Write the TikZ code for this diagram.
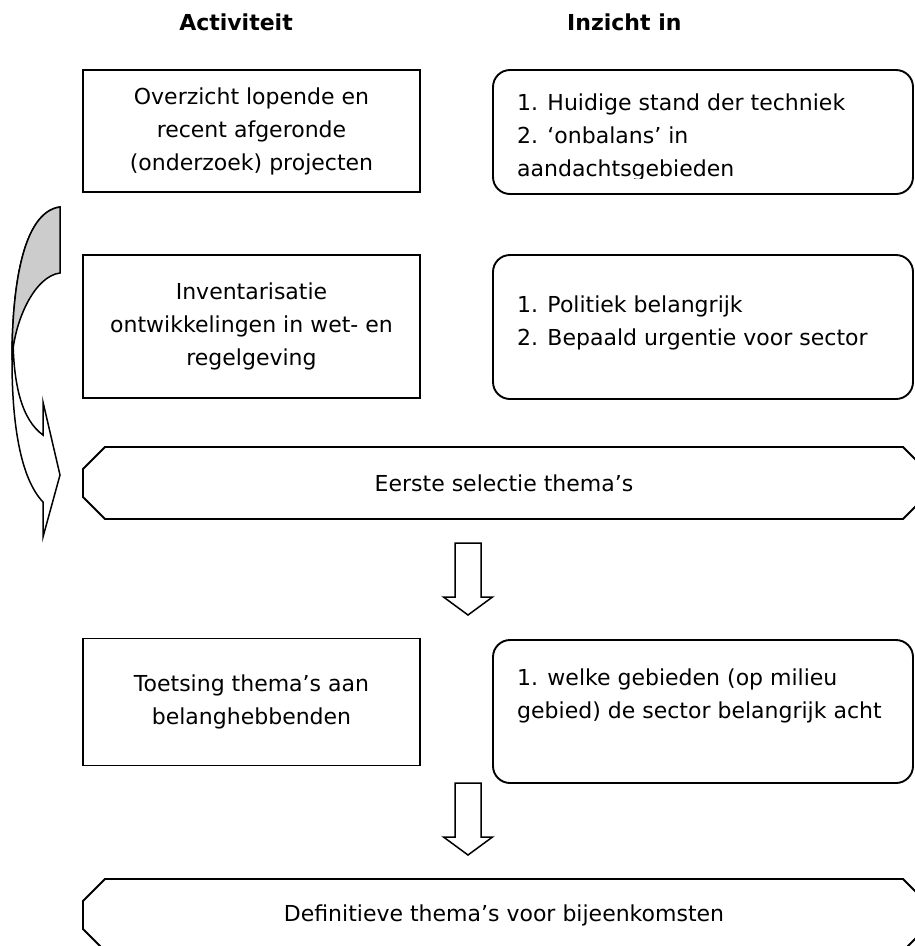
\documentclass[tikz,border=0pt]{standalone}
\usepackage{fontspec}
\setmainfont{DejaVu Sans}
\usepackage{tikz}
\usetikzlibrary{math}
\tikzset{%
  box lines/.style={line width=1.9pt, draw=black},
  actbox/.style={box lines, minimum width=337pt, align=center, inner sep=0pt,
    font=\fontsize{22}{33}\selectfont},
  insbox/.style={box lines, rounded corners=17pt, minimum width=420pt, inner sep=0pt},
  instext/.style={anchor=base west, inner sep=0pt, font=\fontsize{22}{33}\selectfont},
  headtext/.style={inner sep=0pt, font=\fontsize{22}{33}\selectfont\bfseries},
  seltext/.style={inner sep=0pt, font=\fontsize{22}{33}\selectfont},
  block arrow/.style={line width=1.5pt, draw=black, fill=white, line join=miter}
}

\begin{document}
\begin{tikzpicture}[x=1pt,y=-1pt]
    \tikzmath{
      \hl=83;  % octagon left
      \hr=925; % octagon right
      \ch=22;  % chamfer
      \ax=468; % block arrows
      \sw=13;
      \hw=24.5;
      \hh=18;
    }
    \useasboundingbox (0,0) rectangle (915,946);
    \clip (0,0) rectangle (915,946);

    \node[headtext, anchor=base] (acthead) at (236,30) {Activiteit};
    \node[headtext, anchor=base west] (inshead) at (567,30) {Inzicht in};

    % activities
    \node[actbox, minimum height=122pt] (act1) at (251.5,131)
      {Overzicht lopende en\\recent afgeronde\\(onderzoek) projecten};
    \node[actbox, minimum height=143pt] (act2) at (251.5,326.5)
      {Inventarisatie\\ontwikkelingen in wet- en\\regelgeving};
    \node[actbox, minimum height=127pt] (act3) at (251.5,702)
      {Toetsing thema's aan\\belanghebbenden};

    % insights
    \node[insbox, minimum height=124pt] (ins1) at (703,132) {};
    \node[insbox, minimum height=144pt] (ins2) at (703,327) {};
    \node[insbox, minimum height=143pt] (ins3) at (703,711.5) {};
    \begin{scope}
      \clip (493,70) rectangle (913,178);
      \foreach \t [count=\i] in {1. Huidige stand der techniek, 2. `onbalans' in, aandachtsgebieden}
        \node[instext] (ins1l\i) at (517,{110+33*(\i-1)}) {\t};
    \end{scope}
    \foreach \t [count=\i] in {1. Politiek belangrijk, 2. Bepaald urgentie voor sector}
      \node[instext] (ins2l\i) at (517,{312+33*(\i-1)}) {\t};
    \foreach \t [count=\i] in {1. welke gebieden (op milieu, gebied) de sector belangrijk acht}
      \node[instext] (ins3l\i) at (517,{685+33*(\i-1)}) {\t};

    % selections
    \foreach \yt/\yb/\nm/\txt in {447/519/sel/{Eerste selectie thema's},
        879/951/def/{Definitieve thema's voor bijeenkomsten}} {
      \draw[box lines] (\hl+\ch,\yt) -- (\hr-\ch,\yt) -- (\hr,\yt+\ch) -- (\hr,\yb-\ch)
        -- (\hr-\ch,\yb) -- (\hl+\ch,\yb) -- (\hl,\yb-\ch) -- (\hl,\yt+\ch) -- cycle;
      \node[seltext] (\nm) at ({(\hl+\hr)/2},{(\yt+\yb)/2}) {\txt};
    }

    % block arrows
    \foreach \yt/\yh in {543/597, 783/837}
      \draw[block arrow] (\ax-\sw,\yt) -- (\ax+\sw,\yt) -- (\ax+\sw,\yh) -- (\ax+\hw,\yh)
        -- (\ax,\yh+\hh) -- (\ax-\hw,\yh) -- (\ax-\sw,\yh) -- cycle;

    % curved arrow
    \fill[white] (60,207) .. controls (22,212) and (12,290) .. (12,360)
      .. controls (12,430) and (22,480) .. (43,502) -- (43,537) -- (60,475) -- (43,402)
      -- (43,435) .. controls (22,420) and (13,385) .. (13,335) -- cycle;
    \draw[line width=1.5pt, line join=miter] (60,207) .. controls (22,212) and (12,290) .. (12,360)
      .. controls (12,430) and (22,480) .. (43,502) -- (43,537) -- (60,475) -- (43,402)
      -- (43,435) .. controls (22,420) and (13,385) .. (13,335);
    \filldraw[line width=1.5pt, fill=gray!40] (60,207) .. controls (22,212) and (12,290) .. (12,360)
      .. controls (14,320) and (35,276) .. (60,273) -- cycle;
\end{tikzpicture}
\end{document}
